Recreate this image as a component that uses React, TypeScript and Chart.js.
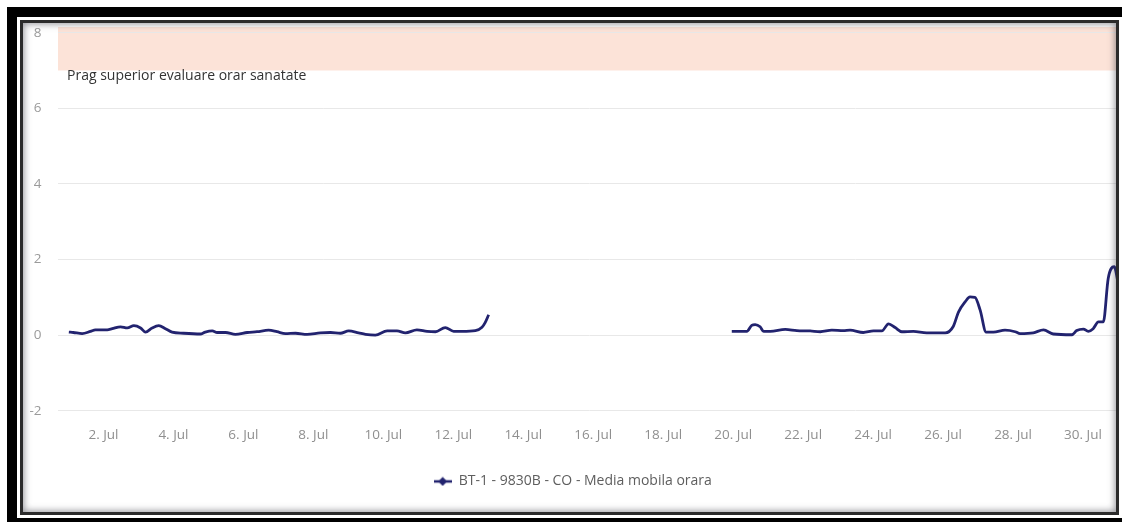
import React, { useEffect, useRef } from 'react';
import { Chart, registerables } from 'chart.js';

Chart.register(...registerables);

// ---- data (day of July, value in mg/m3) ----
const seg1Days = [1.01, 1.14, 1.39, 1.63, 1.77, 2.11, 2.25, 2.49, 2.68, 2.87, 3.06, 3.2, 3.39, 3.58, 3.77, 3.96, 4.29, 4.77, 4.91, 5.11, 5.25, 5.49, 5.77, 6.11, 6.39, 6.72, 6.96, 7.2, 7.49, 7.82, 8.2, 8.49, 8.77, 9.01, 9.29, 9.49, 9.77, 10.11, 10.39, 10.63, 10.96, 11.25, 11.49, 11.77, 12.01, 12.25, 12.63, 12.82, 12.91, 13.01];
const seg1Values = [0.08, 0.07, 0.04, 0.1, 0.14, 0.14, 0.17, 0.22, 0.19, 0.25, 0.19, 0.08, 0.19, 0.25, 0.17, 0.08, 0.05, 0.03, 0.08, 0.11, 0.07, 0.07, 0.02, 0.07, 0.09, 0.13, 0.09, 0.04, 0.05, 0.02, 0.06, 0.07, 0.05, 0.11, 0.06, 0.02, 0.0, 0.11, 0.11, 0.06, 0.14, 0.1, 0.09, 0.2, 0.1, 0.1, 0.12, 0.21, 0.33, 0.54];
const gapDay = 16.5;
const seg2Days = [19.96, 20.39, 20.53, 20.63, 20.77, 20.87, 21.06, 21.49, 21.82, 22.2, 22.49, 22.82, 23.15, 23.34, 23.72, 24.01, 24.25, 24.44, 24.63, 24.82, 25.15, 25.53, 26.06, 26.29, 26.44, 26.63, 26.77, 26.91, 27.06, 27.23, 27.44, 27.77, 28.06, 28.2, 28.58, 28.87, 29.15, 29.68, 29.82, 30.01, 30.15, 30.29, 30.44, 30.58, 30.72, 30.89, 31.01, 31.08];
const seg2Values = [0.1, 0.1, 0.26, 0.28, 0.22, 0.1, 0.1, 0.15, 0.12, 0.11, 0.09, 0.13, 0.12, 0.13, 0.07, 0.11, 0.11, 0.3, 0.2, 0.09, 0.1, 0.06, 0.06, 0.23, 0.61, 0.88, 1.01, 1.0, 0.66, 0.08, 0.08, 0.13, 0.09, 0.04, 0.06, 0.14, 0.03, 0.01, 0.12, 0.16, 0.1, 0.17, 0.35, 0.35, 1.5, 1.81, 1.32, 0.88];

const xTickDays = [2, 4, 6, 8, 10, 12, 14, 16, 18, 20, 22, 24, 26, 28, 30];
const monthLabel = 'Jul';
const yTickValues = [-2, 0, 2, 4, 6, 8];
const thresholdValue = 7;
const bandLabel = 'Prag superior evaluare orar sanatate';
const seriesName = 'BT-1 - 9830B - CO - Media mobila orara';

const LINE_COLOR = '#22236f';
const FONT = '"Open Sans", sans-serif';

function makeLegendMarker(): HTMLCanvasElement {
  const c = document.createElement('canvas');
  c.width = 18;
  c.height = 10;
  const g = c.getContext('2d')!;
  g.strokeStyle = LINE_COLOR;
  g.lineWidth = 2.5;
  g.beginPath();
  g.moveTo(0, 5);
  g.lineTo(18, 5);
  g.stroke();
  g.fillStyle = LINE_COLOR;
  g.beginPath();
  g.moveTo(9, 0.5);
  g.lineTo(13.5, 5);
  g.lineTo(9, 9.5);
  g.lineTo(4.5, 5);
  g.closePath();
  g.fill();
  return c;
}

const plotBandPlugin = {
  id: 'plotBand',
  beforeDraw(chart: any) {
    const { ctx, chartArea, scales } = chart;
    const y = scales.y;
    const yBottom = y.getPixelForValue(thresholdValue);
    ctx.save();
    ctx.fillStyle = '#fce3d8';
    ctx.fillRect(chartArea.left, chartArea.top, chartArea.right - chartArea.left, yBottom - chartArea.top);
    ctx.restore();
  },
  afterDatasetsDraw(chart: any) {
    const { ctx, chartArea, scales } = chart;
    const yBottom = scales.y.getPixelForValue(thresholdValue);
    ctx.save();
    ctx.font = `14px ${FONT}`;
    ctx.fillStyle = '#333333';
    ctx.textBaseline = 'middle';
    ctx.textAlign = 'left';
    ctx.fillText(bandLabel, chartArea.left + 9, yBottom + 6);
    ctx.restore();
  },
};

export default function App() {
  const ref = useRef<HTMLCanvasElement | null>(null);

  useEffect(() => {
    document.body.style.margin = '0';
    const points: { x: number; y: number | null }[] = [];
    seg1Days.forEach((d, i) => points.push({ x: d, y: seg1Values[i] }));
    points.push({ x: gapDay, y: null });
    seg2Days.forEach((d, i) => points.push({ x: d, y: seg2Values[i] }));

    const marker = makeLegendMarker();

    const chart = new Chart(ref.current!, {
      type: 'line',
      data: {
        datasets: [
          {
            label: seriesName,
            data: points as any,
            borderColor: LINE_COLOR,
            backgroundColor: LINE_COLOR,
            borderWidth: 2.8,
            pointRadius: 0,
            fill: false,
            spanGaps: false,
            tension: 0.3,
            cubicInterpolationMode: 'monotone',
          },
        ],
      },
      options: {
        responsive: false,
        maintainAspectRatio: false,
        animation: false,
        layout: { padding: { left: 0, top: 3, right: 2.5, bottom: 12.6 } },
        plugins: {
          tooltip: { enabled: false },
          legend: {
            display: true,
            position: 'bottom',
            align: 'center',
            labels: {
              usePointStyle: true,
              pointStyleWidth: 18,
              padding: 10,
              color: '#5e5e5e',
              font: { family: FONT, size: 14 },
              generateLabels: () => [
                {
                  text: seriesName,
                  pointStyle: marker as any,
                  fillStyle: LINE_COLOR,
                  strokeStyle: LINE_COLOR,
                  lineWidth: 0,
                  hidden: false,
                  datasetIndex: 0,
                  fontColor: '#5e5e5e',
                },
              ],
            },
          },
        },
        scales: {
          x: {
            type: 'linear',
            min: 0.7,
            max: 31.1,
            grid: { display: false, drawTicks: false },
            border: { display: false },
            ticks: {
              autoSkip: false,
              maxRotation: 0,
              padding: 7,
              color: '#8f8f8f',
              font: { family: FONT, size: 13.5 },
              callback: (v: any) => `${v}. ${monthLabel}`,
            },
            afterBuildTicks: (scale: any) => {
              scale.ticks = xTickDays.map((v) => ({ value: v }));
            },
            afterFit: (scale: any) => {
              scale.height = 44.2;
              scale.paddingLeft = 0;
              scale.paddingRight = 0;
            },
          },
          y: {
            type: 'linear',
            min: -2.25,
            max: 8.15,
            grid: { color: '#e8e8e8', lineWidth: 1, drawTicks: false },
            border: { display: false },
            ticks: {
              padding: 16.5,
              color: '#9a9a9a',
              font: { family: FONT, size: 13.5 },
            },
            afterBuildTicks: (scale: any) => {
              scale.ticks = yTickValues.map((v) => ({ value: v }));
            },
            afterFit: (scale: any) => {
              scale.width = 34;
              scale.paddingTop = 0;
              scale.paddingBottom = 0;
            },
          },
        },
      },
      plugins: [plotBandPlugin],
    });
    return () => chart.destroy();
  }, []);

  return (
    <div style={{ position: 'fixed', left: 0, top: 0, width: 1122, height: 522, background: '#fff', overflow: 'hidden' }}>
      {/* outer black frame */}
      <div style={{ position: 'absolute', left: 7, top: 7, width: 1140, height: 521, border: '10px solid #000', boxSizing: 'border-box' }} />
      {/* chart area, clipped */}
      <div style={{ position: 'absolute', left: 23, top: 23, width: 1093, height: 489, overflow: 'hidden', background: '#fff' }}>
        <canvas ref={ref} width={1100} height={487} style={{ position: 'absolute', left: 1, top: 1, width: 1100, height: 487 }} />
      </div>
      {/* inner dark border with soft inset shadow */}
      <div
        style={{
          position: 'absolute',
          left: 20,
          top: 20,
          width: 1099,
          height: 495,
          border: '3px solid #2b2b2b',
          boxSizing: 'border-box',
          boxShadow: 'inset 0 0 7px 1px rgba(60,60,70,0.55)',
          pointerEvents: 'none',
        }}
      />
    </div>
  );
}
